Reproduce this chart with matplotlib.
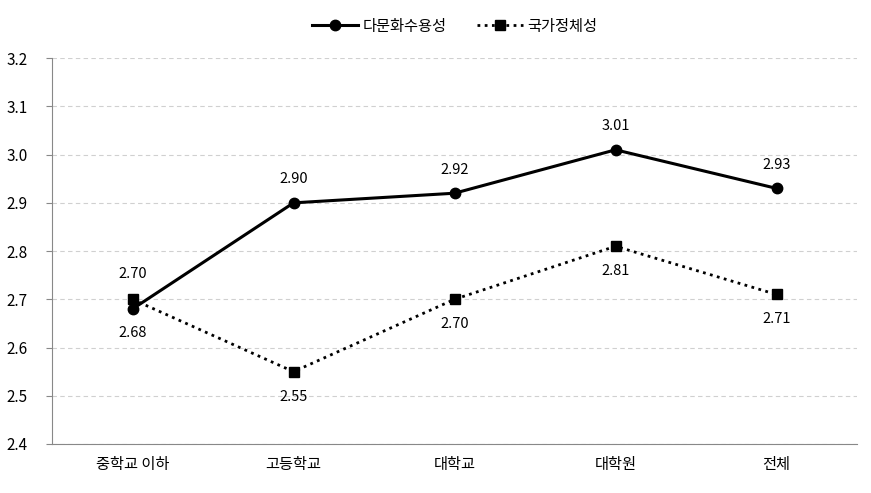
import matplotlib
matplotlib.use('Agg')
import matplotlib.pyplot as plt
import numpy as np

plt.rcParams['font.family'] = ['Noto Sans CJK KR', 'DejaVu Sans']

# --- data ---
categories = ['중학교 이하', '고등학교', '대학교', '대학원', '전체']
multicultural = [2.68, 2.90, 2.92, 3.01, 2.93]
national = [2.70, 2.55, 2.70, 2.81, 2.71]
series_names = ['다문화수용성', '국가정체성']
yticks = [2.4, 2.5, 2.6, 2.7, 2.8, 2.9, 3.0, 3.1, 3.2]

# label placement: +1 above, -1 below
multi_pos = [-1, 1, 1, 1, 1]
nat_pos = [1, -1, -1, -1, -1]

fig = plt.figure(figsize=(8.71, 4.93), dpi=100)
ax = fig.add_axes([0.0597, 0.0994, 0.9243, 0.7826])

x = np.arange(len(categories))
ax.plot(x, multicultural, color='black', lw=2.2, marker='o', ms=7.5,
        label=series_names[0], zorder=3)
ax.plot(x, national, color='black', lw=2.0, ls=(0, (1, 1.6)), marker='s', ms=7.5,
        label=series_names[1], zorder=3)

for xi, v, p in zip(x, multicultural, multi_pos):
    ax.annotate('%.2f' % v, (xi, v), xytext=(0, 17 * p), textcoords='offset points',
                ha='center', va='center', fontsize=10.5)
for xi, v, p in zip(x, national, nat_pos):
    ax.annotate('%.2f' % v, (xi, v), xytext=(0, 18 * p), textcoords='offset points',
                ha='center', va='center', fontsize=10.5)

ax.set_xlim(-0.5, len(categories) - 0.5)
ax.set_ylim(2.4, 3.2)
ax.set_yticks(yticks)
ax.set_yticklabels(['%.1f' % t for t in yticks], fontsize=11)
ax.set_xticks(x)
ax.set_xticklabels(categories, fontsize=11)
ax.tick_params(axis='x', length=0, pad=9)
ax.tick_params(axis='y', length=4, color='#888888', pad=29)
for lbl in ax.get_yticklabels():
    lbl.set_horizontalalignment('left')
ax.yaxis.grid(True, ls=(0, (4, 3)), color='#d0d0d0', lw=0.8)
ax.set_axisbelow(True)
for s in ['top', 'right']:
    ax.spines[s].set_visible(False)
for s in ['left', 'bottom']:
    ax.spines[s].set_color('#888888')

ax.legend(loc='lower center', bbox_to_anchor=(0.5, 1.025), ncol=2, frameon=False,
          fontsize=11, handlelength=3, columnspacing=2, handletextpad=0.3)

fig.savefig('out.png', dpi=100)
